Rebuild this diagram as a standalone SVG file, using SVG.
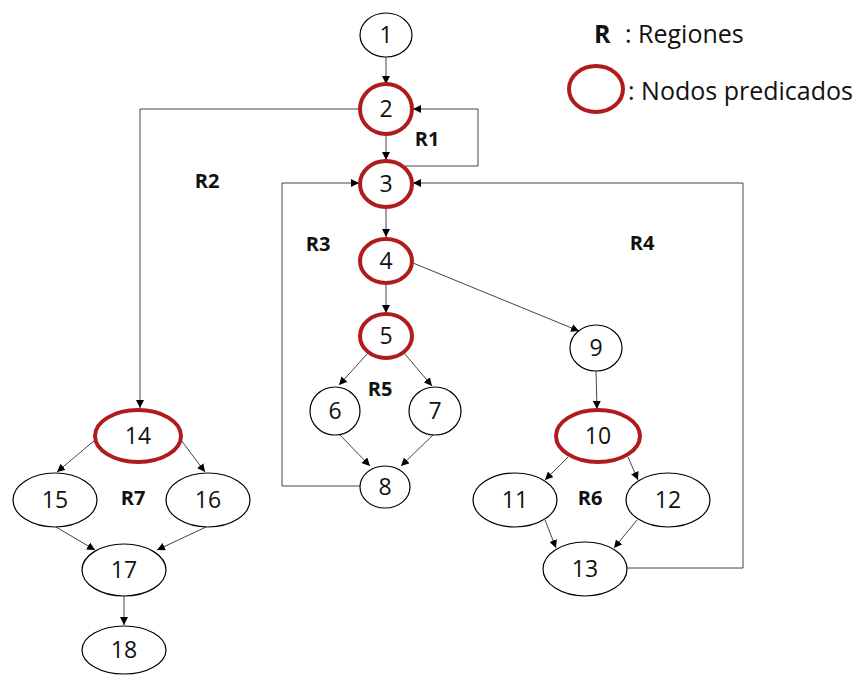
<svg xmlns="http://www.w3.org/2000/svg" width="861" height="675" viewBox="0 0 861 675">
  <defs>
    <marker id="arr" viewBox="0 0 10 10" refX="10" refY="5" markerWidth="8" markerHeight="8" markerUnits="userSpaceOnUse" orient="auto">
      <path d="M0,0 L10,5 L0,10 z" fill="#000"/>
    </marker>
    <style>
      .n ellipse { fill: #fff; stroke: #000; stroke-width: 1.2; }
      .p ellipse { fill: #fff; stroke: #b01c1c; stroke-width: 4; }
      text { font-family: "Open Sans", "Liberation Sans", sans-serif; font-size: 23px; fill: #111; text-anchor: middle; }
      .r { font-weight: bold; font-size: 20px; }
      .lg { text-anchor: start; font-size: 25px; }
      #edges path, #edges line { fill: none; stroke: #444; stroke-width: 1; marker-end: url(#arr); }
    </style>
  </defs>
  <rect width="861" height="675" fill="#fff"/>

  <!-- connectors -->
  <g id="edges">
    <line x1="386" y1="57" x2="386" y2="84"/>
    <line x1="386" y1="134" x2="386" y2="160"/>
    <path d="M405,166 H478 V109 H413"/>
    <path d="M359,109 H140 V408"/>
    <line x1="386" y1="207" x2="386" y2="237"/>
    <line x1="386" y1="284" x2="386" y2="313"/>
    <path d="M362,486 H282 V183 H359"/>
    <path d="M627,568 H743 V183 H413"/>
    <line x1="413" y1="263" x2="579" y2="331"/>
    <line x1="368" y1="353" x2="339" y2="385"/>
    <line x1="404" y1="353" x2="432" y2="386"/>
    <line x1="339" y1="434" x2="370" y2="466"/>
    <line x1="434" y1="434" x2="401" y2="466"/>
    <line x1="596" y1="371" x2="597" y2="409"/>
    <line x1="568" y1="457" x2="545" y2="480"/>
    <line x1="628" y1="457" x2="638" y2="480"/>
    <line x1="545" y1="520" x2="556" y2="548"/>
    <line x1="637" y1="520" x2="614" y2="548"/>
    <line x1="95" y1="440" x2="57" y2="472"/>
    <line x1="181" y1="440" x2="205" y2="472"/>
    <line x1="56" y1="527" x2="95" y2="550"/>
    <line x1="206" y1="527" x2="157" y2="550"/>
    <line x1="124" y1="596" x2="124" y2="625"/>
  </g>

  <!-- nodes -->
  <g id="n1" class="n"><ellipse cx="386" cy="35" rx="26" ry="22"/><text x="386" y="43">1</text></g>
  <g id="n2" class="p"><ellipse cx="386" cy="109" rx="26" ry="25"/><text x="386" y="117">2</text></g>
  <g id="n3" class="p"><ellipse cx="386" cy="184" rx="26" ry="23"/><text x="386" y="192">3</text></g>
  <g id="n4" class="p"><ellipse cx="386" cy="261" rx="26" ry="22"/><text x="386" y="269">4</text></g>
  <g id="n5" class="p"><ellipse cx="386" cy="336" rx="26" ry="22"/><text x="386" y="344">5</text></g>
  <g id="n6" class="n"><ellipse cx="335" cy="411" rx="25" ry="24"/><text x="335" y="419">6</text></g>
  <g id="n7" class="n"><ellipse cx="435" cy="411" rx="26" ry="24"/><text x="435" y="419">7</text></g>
  <g id="n8" class="n"><ellipse cx="385" cy="487" rx="25" ry="21"/><text x="385" y="495">8</text></g>
  <g id="n9" class="n"><ellipse cx="596" cy="348" rx="26" ry="23"/><text x="596" y="356">9</text></g>
  <g id="n10" class="p"><ellipse cx="598" cy="436" rx="42" ry="26"/><text x="598" y="444">10</text></g>
  <g id="n11" class="n"><ellipse cx="515" cy="500" rx="42" ry="27"/><text x="515" y="508">11</text></g>
  <g id="n12" class="n"><ellipse cx="668" cy="500" rx="42" ry="27"/><text x="668" y="508">12</text></g>
  <g id="n13" class="n"><ellipse cx="585" cy="569" rx="42" ry="27"/><text x="585" y="577">13</text></g>
  <g id="n14" class="p"><ellipse cx="138" cy="436" rx="43" ry="26"/><text x="138" y="444">14</text></g>
  <g id="n15" class="n"><ellipse cx="55" cy="500" rx="42" ry="27"/><text x="55" y="508">15</text></g>
  <g id="n16" class="n"><ellipse cx="208" cy="500" rx="42" ry="27"/><text x="208" y="508">16</text></g>
  <g id="n17" class="n"><ellipse cx="124" cy="570" rx="42" ry="26"/><text x="124" y="578">17</text></g>
  <g id="n18" class="n"><ellipse cx="124" cy="650" rx="42" ry="24"/><text x="124" y="658">18</text></g>

  <!-- region labels -->
  <g id="regions">
    <text class="r" x="427" y="146">R1</text>
    <text class="r" x="207" y="188">R2</text>
    <text class="r" x="318" y="251">R3</text>
    <text class="r" x="642" y="250">R4</text>
    <text class="r" x="380" y="396">R5</text>
    <text class="r" x="590" y="505">R6</text>
    <text class="r" x="133" y="505">R7</text>
  </g>

  <!-- legend -->
  <g id="legend">
    <text class="r lg" x="594" y="43">R</text>
    <text class="lg" x="625" y="43">: Regiones</text>
    <ellipse cx="596" cy="89" rx="27" ry="23" fill="none" stroke="#b01c1c" stroke-width="4"/>
    <text class="lg" x="628" y="100">: Nodos predicados</text>
  </g>
</svg>
